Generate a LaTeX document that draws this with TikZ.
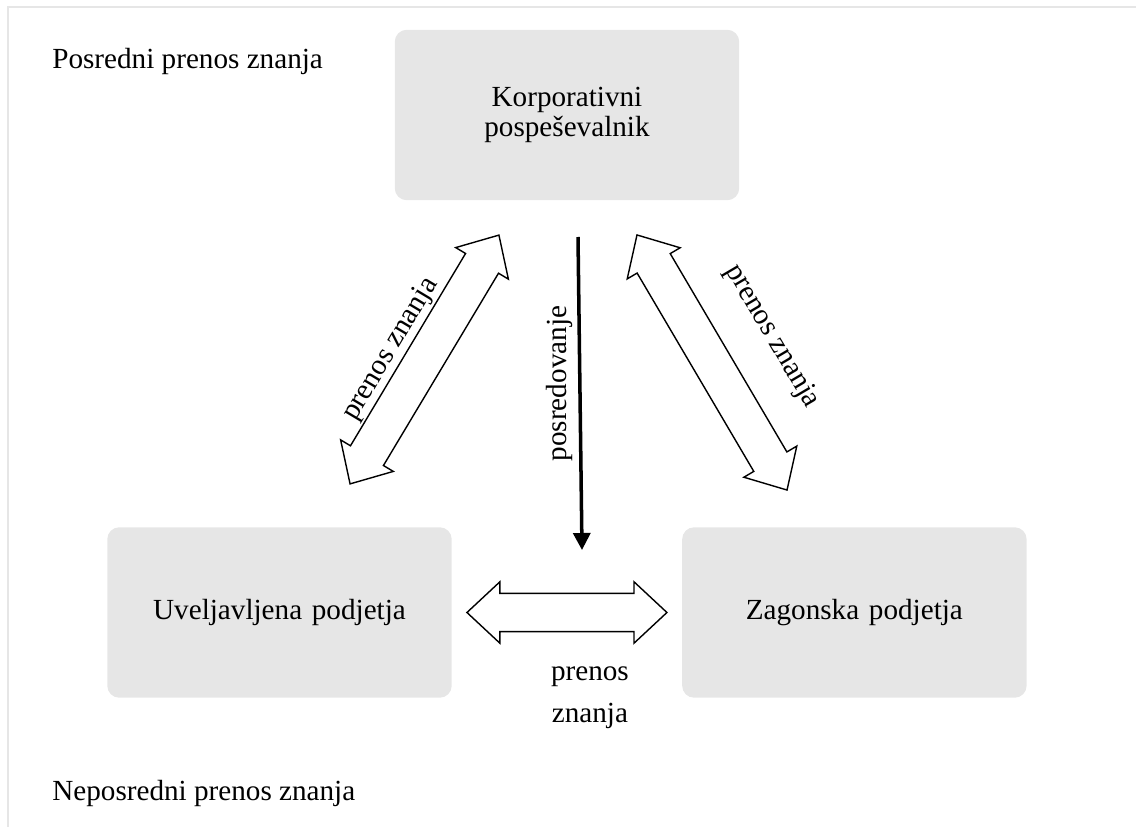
\documentclass[tikz,border=0pt]{standalone}
\usepackage{fontspec}
\setmainfont{Liberation Serif}
\usetikzlibrary{shapes,arrows,arrows.meta,positioning}
\definecolor{boxgray}{HTML}{E6E6E6}
\tikzstyle{box} = [rectangle, fill=boxgray, rounded corners=0.24cm,
    minimum width=6.89cm, minimum height=3.41cm, text width=6.5cm, align=center]
\tikzstyle{twoway} = [double arrow, draw, fill=white, line width=0.8pt,
    double arrow head extend=0.23cm, double arrow head indent=0pt,
    double arrow tip angle=86, minimum width=1.2cm,
    inner xsep=0pt, inner ysep=0.37cm, sloped]
\tikzstyle{line} = [draw, line width=2pt, -{Triangle[width=0.34cm,length=0.34cm]}]
\tikzstyle{tag} = [inner sep=0pt, sloped]
\tikzstyle{heading} = [inner sep=0pt, anchor=base west]

\begin{document}
\begin{tikzpicture}[x=0.02cm, y=-0.02cm, font=\fontsize{16.6}{17}\selectfont]
	\useasboundingbox (0,0) rectangle (1136,827);
	\draw [boxgray, line width=0.04cm] (8,827) -- (8,7) -- (1136,7);

	\node [heading] (posr) at (52,69) {Posredni prenos znanja};
	\node [heading] (neposr) at (52,800) {Neposredni prenos znanja};

	\node [box] (korp) at (567,115) {Korporativni\\pospeševalnik};
	\node [box] (uvel) at (279.5,612.5) {Uveljavljena podjetja};
	\node [box, right of=uvel, node distance=11.5cm] (zag) {Zagonska podjetja};

	% ends of the arrows
	\coordinate (uk1) at (350,484);
	\coordinate (uk2) at (499,235);
	\coordinate (kz1) at (637,235);
	\coordinate (kz2) at (787,490);
	\coordinate (kp1) at (578,237);
	\coordinate (kp2) at (582,550);

	\path (uk1) -- node [twoway, minimum height=5.8cm] {}
		node [tag, pos=0.47, above=0.42cm] {prenos znanja} (uk2);
	\path (kz1) -- node [twoway, minimum height=5.92cm] {}
		node [tag, pos=0.527, above=1.04cm] {prenos znanja} (kz2);
	\path ([xshift=0.3cm]uvel.east) -- node [twoway, minimum height=4cm] {}
		node [align=center, xshift=0.46cm, yshift=-1.7cm,
			font=\fontsize{16.6}{24}\selectfont] {prenos\\znanja} ([xshift=-0.3cm]zag.west);
	\path [line] (kp1) -- node [pos=0.468, rotate=90, anchor=south, inner sep=0.1cm] {posredovanje} (kp2);
\end{tikzpicture}
\end{document}
